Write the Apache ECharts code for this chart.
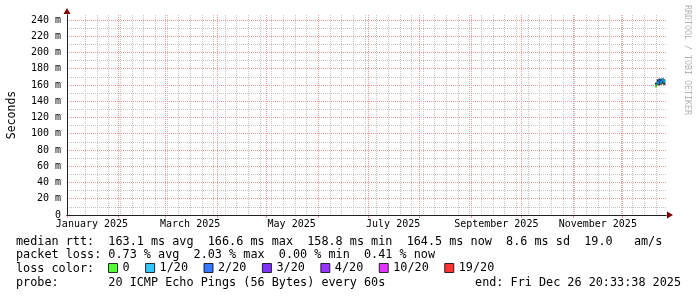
<!DOCTYPE html>
<html><head><meta charset="utf-8">
<script src="https://cdn.jsdelivr.net/npm/echarts@6/dist/echarts.min.js"></script>
<style>html,body{margin:0;padding:0;background:#fff}#c{width:697px;height:297px}</style>
</head><body><div id="c"></div>
<script>
// ---- data ----
const firstDay = '2025-01-01';
const dayCount = 361;               // 2025-01-01 .. 2025-12-27
const tickLabelDates = ['2025-01-16','2025-03-16','2025-05-16','2025-07-16','2025-09-16','2025-11-16'];
const tickLabels = ['January 2025','March 2025','May 2025','July 2025','September 2025','November 2025'];
const yMax = 246.15;
const dataDays = ['2025-12-21','2025-12-22','2025-12-23','2025-12-24','2025-12-25','2025-12-26'];
const smokeLow  = [157.5,159.0,160.0,160.5,161.0,160.0];
const smokeHigh = [163.0,167.0,168.0,167.5,168.6,167.0];
const medianRtt = [158.8,162.5,165.0,163.5,166.6,164.5];
const lossAtDay = ['0','1/20','2/20','1/20','1/20','1/20'];
const lossLevels = ['0','1/20','2/20','3/20','4/20','10/20','19/20'];
const lossColors = ['#26ff00','#00b8ff','#0059ff','#5e00ff','#7e00ff','#dd00ff','#ff0000'];
const lineRtt  = 'median rtt:  163.1 ms avg  166.6 ms max  158.8 ms min  164.5 ms now  8.6 ms sd  19.0   am/s';
const lineLoss = 'packet loss: 0.73 % avg  2.03 % max  0.00 % min  0.41 % now';
const lineColor = 'loss color:';
const lineProbe = 'probe:       20 ICMP Echo Pings (56 Bytes) every 60s';
const lineEnd = 'end: Fri Dec 26 20:33:38 2025';
const watermark = 'RRDTOOL / TOBI OETIKER';

// ---- build ----
const days = [];
const base = new Date(firstDay + 'T00:00:00Z').getTime();
for (let i = 0; i < dayCount; i++) days.push(new Date(base + i * 86400000).toISOString().slice(0, 10));
const isSunday = v => new Date(v + 'T00:00:00Z').getUTCDay() === 0 && v.slice(8) !== '01';
const isMonthStart = v => v.slice(8) === '01';

const MONO = '"DejaVu Sans Mono"';
const GRID_C = '#c4c4c4';
const MGRID_C = '#e99a9a';

const hiddenX = (extra) => Object.assign({
  type: 'category', data: days, boundaryGap: false, position: 'bottom',
  axisLine: { show: false, onZero: false }, axisLabel: { show: false }, axisTick: { show: false },
  splitLine: { show: false }
}, extra);
const hiddenY = (extra) => Object.assign({
  type: 'value', position: 'left', min: 0, max: yMax,
  axisLine: { show: false, onZero: false }, axisLabel: { show: false }, axisTick: { show: false },
  splitLine: { show: false }
}, extra);

const MAIN_X = 3, MAIN_Y = 2;
const series = [
  { type: 'bar', stack: 'smoke', barWidth: 2, silent: true, z: 2, xAxisIndex: MAIN_X, yAxisIndex: MAIN_Y,
    data: dataDays.map((d, i) => [d, smokeLow[i]]), itemStyle: { color: 'rgba(0,0,0,0)' } },
  { type: 'bar', stack: 'smoke', barWidth: 2, silent: true, z: 2, xAxisIndex: MAIN_X, yAxisIndex: MAIN_Y,
    data: dataDays.map((d, i) => [d, smokeHigh[i] - smokeLow[i]]), itemStyle: { color: '#333333' } }
];
lossLevels.forEach((lv, k) => {
  series.push({
    type: 'scatter', name: lv, symbol: 'rect', symbolSize: [2, 3], z: 3, silent: true,
    xAxisIndex: MAIN_X, yAxisIndex: MAIN_Y,
    itemStyle: { color: lossColors[k] },
    data: dataDays.map((d, i) => lossAtDay[i] === lv ? [d, medianRtt[i]] : null).filter(x => x)
  });
});

const txt = (x, y, text, extra) => ({ type: 'text', x, y, silent: true,
  style: Object.assign({ text, font: '11.8px ' + MONO, fill: '#000', verticalAlign: 'middle', align: 'left' }, extra || {}) });

const chart = echarts.init(document.getElementById('c'), null, { renderer: 'canvas' });
chart.setOption({
  animation: false,
  backgroundColor: '#fff',
  grid: { left: 67, right: 31, top: 15, bottom: 82, containLabel: false, outerBoundsMode: 'none' },
  xAxis: [
    hiddenX({ z: 1, splitLine: { show: true, showMinLine: false, interval: (i, v) => isSunday(v),
      lineStyle: { color: GRID_C, type: [1, 1], width: 1 } } }),
    hiddenX({ z: 2, splitLine: { show: true, showMinLine: false, interval: (i, v) => isMonthStart(v),
      lineStyle: { color: MGRID_C, type: [1, 1], width: 1 } },
      axisTick: { show: true, interval: (i, v) => isMonthStart(v), length: 3, lineStyle: { color: MGRID_C } } }),
    hiddenX({ z: 3, axisLine: { show: true, onZero: false, lineStyle: { color: '#800000' },
      symbol: ['none', 'triangle'], symbolSize: [7, 6], symbolOffset: [0, 4] } }),
    { type: 'category', data: days, boundaryGap: false, position: 'bottom', z: 4,
      axisLine: { show: true, onZero: false, lineStyle: { color: '#222', width: 1 } },
      axisTick: { show: false }, splitLine: { show: false },
      axisLabel: { margin: 4, fontFamily: MONO, fontSize: 10, color: '#000',
        interval: (i, v) => tickLabelDates.indexOf(v) >= 0,
        formatter: v => tickLabels[tickLabelDates.indexOf(v)] || '' } }
  ],
  yAxis: [
    hiddenY({ interval: 10, z: 1,
      splitLine: { show: true, showMinLine: false, showMaxLine: false,
        lineStyle: { color: GRID_C, type: [1, 1], width: 1 } } }),
    hiddenY({ z: 3, axisLine: { show: true, onZero: false, lineStyle: { color: '#800000' },
        symbol: ['none', 'triangle'], symbolSize: [7, 6], symbolOffset: [0, 4] } }),
    { type: 'value', position: 'left', min: 0, max: yMax, interval: 20, z: 4,
      axisLine: { show: true, onZero: false, lineStyle: { color: '#222', width: 1 } },
      axisTick: { show: false },
      axisLabel: { margin: 6, fontFamily: MONO, fontSize: 10, color: '#000', showMaxLabel: false,
        formatter: v => v === 0 ? '0' : (v > 245 ? '' : v + ' m') },
      splitLine: { show: true, showMinLine: false, showMaxLine: false,
        lineStyle: { color: MGRID_C, type: [1, 1], width: 1 } },
      name: 'Seconds', nameLocation: 'middle', nameGap: 49, nameRotate: 90,
      nameTextStyle: { fontFamily: MONO, fontSize: 11.5, color: '#000' } }
  ],
  legend: {
    data: lossLevels, left: 108, top: 262, padding: 0, itemGap: 15.5, itemWidth: 9, itemHeight: 9,
    icon: 'rect', selectedMode: false,
    itemStyle: { borderColor: '#000', borderWidth: 1 },
    textStyle: { fontFamily: MONO, fontSize: 11.8, color: '#000', padding: [0, 0, 0, 0] }
  },
  graphic: [
    txt(16, 241.5, lineRtt),
    txt(16, 255.3, lineLoss),
    txt(16, 269, lineColor),
    txt(16, 282.8, lineProbe),
    txt(681, 282.8, lineEnd, { align: 'right' }),
    { type: 'text', x: 687, y: 5, rotation: -Math.PI / 2, silent: true,
      style: { text: watermark, font: '8.3px ' + MONO, fill: '#b4b4b4', align: 'left', verticalAlign: 'middle' } }
  ],
  series: series
});
</script></body></html>
